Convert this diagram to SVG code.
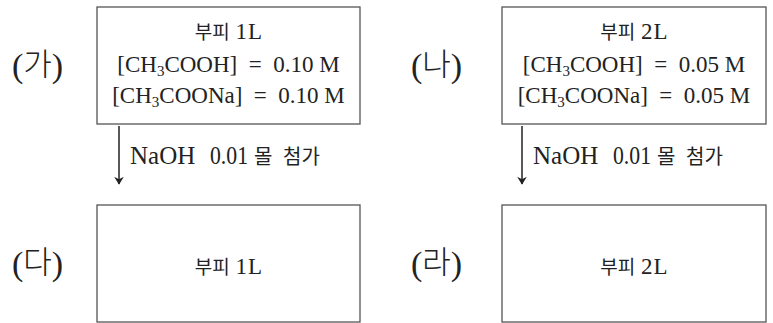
<svg xmlns="http://www.w3.org/2000/svg" width="773" height="323" viewBox="0 0 773 323">
<defs>
<marker id="ah" viewBox="0 0 10 14" refX="9" refY="7" markerWidth="8" markerHeight="12" markerUnits="userSpaceOnUse" orient="auto">
<path d="M0,1 L10,7 L0,13 L3,7 Z" fill="#222"/>
</marker>
</defs>
<style>
.box{fill:#fff;stroke:#555;stroke-width:1.3}
.t{font-family:"Liberation Serif","DejaVu Serif",serif;font-size:23px;fill:#222}
.a{font-family:"Liberation Serif","DejaVu Serif",serif;font-size:25px;fill:#222}
.k{font-family:"Noto Sans CJK KR",sans-serif;font-size:19px;fill:#222}
.ka{font-family:"Noto Sans CJK KR",sans-serif;font-size:20px;fill:#222}
.lab{font-family:"Liberation Serif","DejaVu Serif",serif;font-size:34px;fill:#222}
.labk{font-family:"Noto Sans CJK KR",sans-serif;font-size:31px;font-weight:300}
.sub{font-size:15px}
.conn{stroke:#222;stroke-width:1.5;fill:none}
</style>
<rect width="773" height="323" fill="#fff"/>
<g id="ga">
<text class="lab" x="12" y="77">(<tspan class="labk" dy="-2">가</tspan><tspan dy="2">)</tspan></text>
<rect class="box" x="97" y="7" width="263" height="117"/>
<text class="t" x="228.5" y="39" text-anchor="middle"><tspan class="k">부피</tspan> 1<tspan dx="1">L</tspan></text>
<text class="t" x="228.5" y="72" text-anchor="middle" xml:space="preserve">[CH<tspan class="sub" dy="4">3</tspan><tspan dy="-4">COOH]  =  0.10 M</tspan></text>
<text class="t" x="228.5" y="103" text-anchor="middle" xml:space="preserve">[CH<tspan class="sub" dy="4">3</tspan><tspan dy="-4">COONa]  =  0.10 M</tspan></text>
</g>
<g id="na">
<text class="lab" x="411" y="77">(<tspan class="labk" dy="-2">나</tspan><tspan dy="2">)</tspan></text>
<rect class="box" x="502" y="7" width="264" height="117"/>
<text class="t" x="634" y="39" text-anchor="middle"><tspan class="k">부피</tspan> 2<tspan dx="1">L</tspan></text>
<text class="t" x="634" y="72" text-anchor="middle" xml:space="preserve">[CH<tspan class="sub" dy="4">3</tspan><tspan dy="-4">COOH]  =  0.05 M</tspan></text>
<text class="t" x="634" y="103" text-anchor="middle" xml:space="preserve">[CH<tspan class="sub" dy="4">3</tspan><tspan dy="-4">COONa]  =  0.05 M</tspan></text>
</g>
<g id="da">
<text class="lab" x="12" y="275">(<tspan class="labk" dy="-2">다</tspan><tspan dy="2">)</tspan></text>
<rect class="box" x="97" y="205" width="263" height="117"/>
<text class="t" x="228.5" y="274" text-anchor="middle"><tspan class="k">부피</tspan> 1<tspan dx="1">L</tspan></text>
</g>
<g id="ra">
<text class="lab" x="411" y="275">(<tspan class="labk" dy="-2">라</tspan><tspan dy="2">)</tspan></text>
<rect class="box" x="502" y="205" width="264" height="117"/>
<text class="t" x="634" y="274" text-anchor="middle"><tspan class="k">부피</tspan> 2<tspan dx="1">L</tspan></text>
</g>
<g id="connectors">
<line class="conn" x1="119" y1="126" x2="119" y2="184" marker-end="url(#ah)"/>
<line class="conn" x1="522" y1="126" x2="522" y2="184" marker-end="url(#ah)"/>
<text class="a" y="164"><tspan x="130">NaOH</tspan><tspan x="210" textLength="38" lengthAdjust="spacingAndGlyphs">0.01</tspan><tspan class="ka" x="254">몰</tspan><tspan class="ka" x="283">첨가</tspan></text>
<text class="a" y="164"><tspan x="533">NaOH</tspan><tspan x="613" textLength="38" lengthAdjust="spacingAndGlyphs">0.01</tspan><tspan class="ka" x="657">몰</tspan><tspan class="ka" x="686">첨가</tspan></text>
</g>
</svg>
